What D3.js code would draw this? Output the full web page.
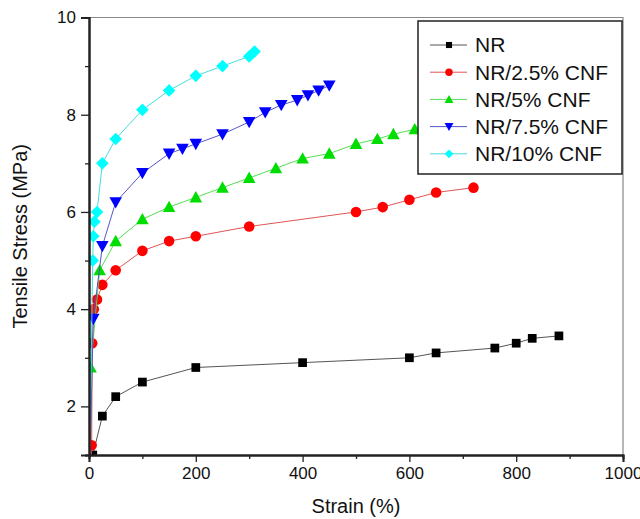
<html>
<head>
<style>
  body { margin: 0; background: #fff; }
  text { font-family: Arial, "Liberation Sans", sans-serif; fill: #111; }
</style>
</head>
<body>
<div id="chart"></div>
<script src="https://d3js.org/d3.v7.min.js"></script>
<script>
// data
var strainNR = [0, 7, 25, 50, 100, 200, 400, 600, 650, 760, 800, 830, 880];
var stressNR = [0, 1.0, 1.8, 2.2, 2.5, 2.8, 2.9, 3.0, 3.1, 3.2, 3.3, 3.4, 3.45];

var strain25 = [0, 5, 6, 9, 15, 25, 50, 100, 150, 200, 300, 500, 550, 600, 650, 720];
var stress25 = [0, 1.2, 3.3, 4.0, 4.2, 4.5, 4.8, 5.2, 5.4, 5.5, 5.7, 6.0, 6.1, 6.25, 6.4, 6.5];

var strain5 = [0, 3, 20, 50, 100, 150, 200, 250, 300, 350, 400, 450, 500, 540, 570, 610];
var stress5 = [0, 2.8, 4.8, 5.4, 5.85, 6.1, 6.3, 6.5, 6.7, 6.9, 7.1, 7.2, 7.4, 7.5, 7.6, 7.7];

var strain75 = [0, 8, 25, 50, 100, 150, 175, 200, 250, 300, 330, 360, 390, 410, 430, 450];
var stress75 = [0, 3.8, 5.3, 6.2, 6.8, 7.2, 7.3, 7.4, 7.6, 7.85, 8.05, 8.2, 8.3, 8.4, 8.5, 8.6];

var strain10 = [0, 7, 8, 10, 15, 25, 50, 100, 150, 200, 250, 300, 310];
var stress10 = [0, 5.0, 5.5, 5.8, 6.0, 7.0, 7.5, 8.1, 8.5, 8.8, 9.0, 9.2, 9.3];

var names = ["NR", "NR/2.5% CNF", "NR/5% CNF", "NR/7.5% CNF", "NR/10% CNF"];
var xTicks = [0, 200, 400, 600, 800, 1000];
var yTicks = [2, 4, 6, 8, 10];

var series = [
  {name: names[0], x: strainNR, y: stressNR, color: "#000", line: "#555", shape: "square"},
  {name: names[1], x: strain25, y: stress25, color: "#f00", line: "#e05555", shape: "circle"},
  {name: names[2], x: strain5, y: stress5, color: "#0d0", line: "#55dd55", shape: "up"},
  {name: names[3], x: strain75, y: stress75, color: "#00f", line: "#5555cc", shape: "down"},
  {name: names[4], x: strain10, y: stress10, color: "#0ff", line: "#44dddd", shape: "diamond"}
];

var width = 640, height = 519;
var pLeft = 89, pRight = 623, pTop = 17.5, pBottom = 455;

var svg = d3.select("#chart").append("svg")
  .attr("width", width).attr("height", height);

var x = d3.scaleLinear().domain([0, 1000]).range([pLeft, pRight]);
var y = d3.scaleLinear().domain([1, 10]).range([pBottom, pTop]);

// marker path centred on 0,0
function marker(shape, s) {
  if (shape == "square") return d3.symbol(d3.symbolSquare, 76 * s * s)();
  if (shape == "circle") return d3.symbol(d3.symbolCircle, 88 * s * s)();
  var h = 6.3 * s;
  if (shape == "up") return "M0," + (-h) + "L" + h + "," + (h * 0.8) + "L" + (-h) + "," + (h * 0.8) + "Z";
  if (shape == "down") return "M0," + h + "L" + h + "," + (-h * 0.8) + "L" + (-h) + "," + (-h * 0.8) + "Z";
  return "M0," + (-h) + "L" + h + ",0L0," + h + "L" + (-h) + ",0Z";
}

svg.append("clipPath").attr("id", "plotclip")
  .append("rect")
  .attr("x", pLeft).attr("y", pTop)
  .attr("width", pRight - pLeft).attr("height", pBottom - pTop);

// frame top/right
svg.append("path")
  .attr("d", "M" + pLeft + "," + pTop + "H" + pRight + "V" + pBottom)
  .attr("fill", "none").attr("stroke", "#888").attr("stroke-width", 1.2);

var plot = svg.append("g").attr("clip-path", "url(#plotclip)");

var line = d3.line().x(d => x(d[0])).y(d => y(d[1]));

series.forEach(function (s) {
  var pts = s.x.map((v, i) => [v, s.y[i]]);
  plot.append("path")
    .attr("d", line(pts))
    .attr("fill", "none")
    .attr("stroke", s.line)
    .attr("stroke-width", 1);
  plot.selectAll(null)
    .data(pts)
    .enter()
    .append("path")
    .attr("d", marker(s.shape, 1))
    .attr("transform", d => "translate(" + x(d[0]) + "," + y(d[1]) + ")")
    .attr("fill", s.color);
});

// axes
var xAxis = svg.append("g").attr("transform", "translate(0," + pBottom + ")");
xAxis.call(d3.axisBottom(x).tickValues(d3.range(100, 1000, 200)).tickSize(4).tickFormat(""));
xAxis.append("g").call(d3.axisBottom(x).tickValues(xTicks).tickSize(7).tickPadding(5).tickFormat(d3.format("d")));
xAxis.selectAll("path.domain").attr("stroke", "#222").attr("stroke-width", 2);
xAxis.selectAll("line").attr("stroke", "#222").attr("stroke-width", 1.3);
xAxis.selectAll("text").style("font-size", "17px").style("font-family", "Arial, 'Liberation Sans', sans-serif").attr("fill", "#111");

var yAxis = svg.append("g").attr("transform", "translate(" + pLeft + ",0)");
yAxis.call(d3.axisLeft(y).tickValues([1, 3, 5, 7, 9]).tickSize(4).tickFormat(""));
yAxis.append("g").call(d3.axisLeft(y).tickValues(yTicks).tickSize(8).tickPadding(5).tickFormat(d3.format("d")));
yAxis.selectAll("path.domain").attr("stroke", "#222").attr("stroke-width", 2);
yAxis.selectAll("line").attr("stroke", "#222").attr("stroke-width", 1.3);
yAxis.selectAll("text").style("font-size", "17px").style("font-family", "Arial, 'Liberation Sans', sans-serif").attr("fill", "#111");

svg.append("text")
  .attr("x", (pLeft + pRight) / 2).attr("y", 513)
  .attr("text-anchor", "middle")
  .style("font-size", "20px")
  .text("Strain (%)");

svg.append("text")
  .attr("transform", "translate(27," + ((pTop + pBottom) / 2) + ") rotate(-90)")
  .attr("text-anchor", "middle")
  .style("font-size", "20px")
  .text("Tensile Stress (MPa)");

// legend
var lg = svg.append("g");
lg.append("rect")
  .attr("x", 418).attr("y", 21)
  .attr("width", 204).attr("height", 153)
  .attr("fill", "#fff").attr("stroke", "#222").attr("stroke-width", 1.5);

for (let i = 0; i < series.length; i++) {
  var ly = 45 + 27.2 * i;
  lg.append("line")
    .attr("x1", 430).attr("x2", 467)
    .attr("y1", ly).attr("y2", ly)
    .attr("stroke", series[i].line).attr("stroke-width", 1);
  lg.append("path")
    .attr("d", marker(series[i].shape, 0.7))
    .attr("transform", "translate(449," + ly + ")")
    .attr("fill", series[i].color);
  lg.append("text")
    .attr("x", 475).attr("y", ly)
    .attr("dy", "0.35em")
    .style("font-size", "21px")
    .text(series[i].name);
}
</script>
</body>
</html>
